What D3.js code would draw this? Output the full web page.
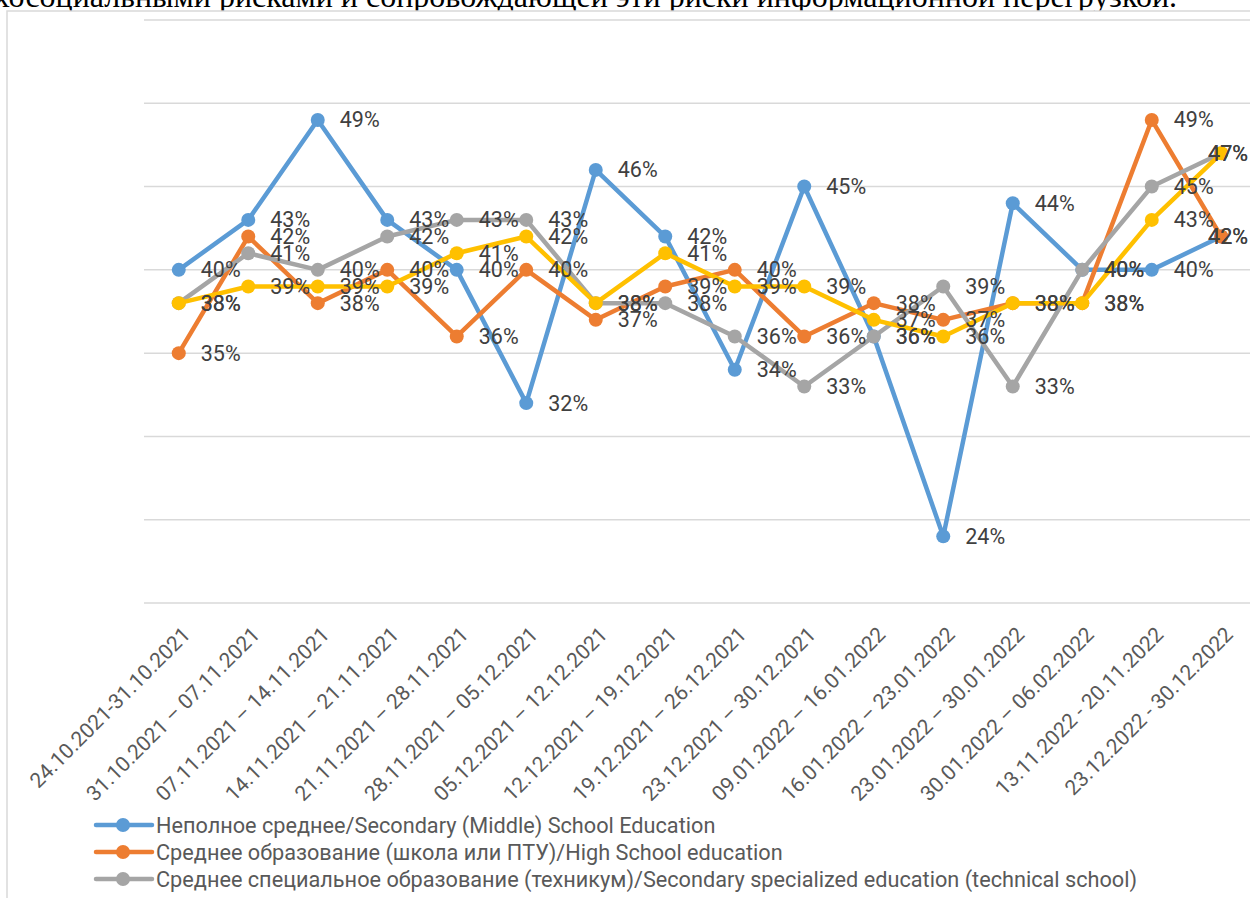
<!DOCTYPE html>
<html>
<head>
<meta charset="utf-8">
<script src="https://cdn.jsdelivr.net/npm/d3@7"></script>
<style>
  body { margin: 0; background: #fff; }
  svg { display: block; }
</style>
</head>
<body>
<svg id="chart" width="1250" height="898"></svg>
<script>
// weeks on the x axis
const categories = [
  "24.10.2021-31.10.2021",
  "31.10.2021 – 07.11.2021",
  "07.11.2021 – 14.11.2021",
  "14.11.2021 – 21.11.2021",
  "21.11.2021 – 28.11.2021",
  "28.11.2021 – 05.12.2021",
  "05.12.2021 – 12.12.2021",
  "12.12.2021 – 19.12.2021",
  "19.12.2021 – 26.12.2021",
  "23.12.2021 – 30.12.2021",
  "09.01.2022 – 16.01.2022",
  "16.01.2022 – 23.01.2022",
  "23.01.2022 – 30.01.2022",
  "30.01.2022 – 06.02.2022",
  "13.11.2022 - 20.11.2022",
  "23.12.2022 - 30.12.2022"
];

const seriesNames = [
  "Неполное среднее/Secondary (Middle) School Education",
  "Среднее образование (школа или ПТУ)/High School education",
  "Среднее специальное образование (техникум)/Secondary specialized education (technical school)",
  "Высшее образование/Higher education"
];

const middleSchool = [40, 43, 49, 43, 40, 32, 46, 42, 34, 45, 36, 24, 44, 40, 40, 42];
const highSchool   = [35, 42, 38, 40, 36, 40, 37, 39, 40, 36, 38, 37, 38, 38, 49, 42];
const technical    = [38, 41, 40, 42, 43, 43, 38, 38, 36, 33, 36, 39, 33, 40, 45, 47];
const higher       = [38, 39, 39, 39, 41, 42, 38, 41, 39, 39, 37, 36, 38, 38, 43, 47];

const gridTicks = [20, 25, 30, 35, 40, 45, 50, 55];

const colors = ["#5B9BD5", "#ED7D31", "#A5A5A5", "#FFC000"];

const series = [middleSchool, highSchool, technical, higher].map(function(vals, i) {
  return { name: seriesNames[i], color: colors[i], values: vals };
});

const W = 1250, H = 898;
const svg = d3.select("#chart");
const font = "Roboto, 'Noto Sans', sans-serif";

// document text cut off above the chart
svg.append("text")
  .attr("x", 1177)
  .attr("y", 7)
  .attr("text-anchor", "end")
  .attr("font-family", "'Liberation Serif', serif")
  .attr("font-size", 32)
  .attr("fill", "#000")
  .text("психосоциальными рисками и сопровождающей эти риски информационной перегрузкой.");

// chart frame
svg.append("rect")
  .attr("x", 7).attr("y", 11)
  .attr("width", W + 20).attr("height", H + 20)
  .attr("fill", "#fff")
  .attr("stroke", "#d9d9d9")
  .attr("stroke-width", 1.5);

const plotLeft = 144, plotRight = 1256, plotTop = 20, plotBottom = 603;

let x = d3.scalePoint()
  .domain(categories)
  .range([plotLeft, plotRight])
  .padding(0.5);

let y = d3.scaleLinear()
  .domain([20, 55])
  .range([plotBottom, plotTop]);

// horizontal gridlines
svg.append("g")
  .selectAll("line")
  .data(gridTicks)
  .enter()
  .append("line")
  .attr("x1", plotLeft)
  .attr("x2", plotRight)
  .attr("y1", function(d) { return y(d); })
  .attr("y2", function(d) { return y(d); })
  .attr("stroke", "#d9d9d9")
  .attr("stroke-width", 1.5);

// rotated category labels
svg.append("g")
  .selectAll("text")
  .data(categories)
  .enter()
  .append("text")
  .attr("transform", function(d) { return "translate(" + (x(d) + 8) + ",631) rotate(-45)"; })
  .attr("text-anchor", "end")
  .attr("dominant-baseline", "central")
  .attr("font-family", font)
  .attr("font-size", 21)
  .attr("fill", "#595959")
  .text(function(d) { return d; });

const line = d3.line()
  .x(function(d, i) { return x(categories[i]); })
  .y(function(d) { return y(d); });

series.forEach(function(s) {
  const g = svg.append("g");
  g.append("path")
    .datum(s.values)
    .attr("d", line)
    .attr("fill", "none")
    .attr("stroke", s.color)
    .attr("stroke-width", 4.5)
    .attr("stroke-linejoin", "round")
    .attr("stroke-linecap", "round");
  g.selectAll("circle")
    .data(s.values)
    .enter()
    .append("circle")
    .attr("cx", function(d, i) { return x(categories[i]); })
    .attr("cy", function(d) { return y(d); })
    .attr("r", 7)
    .attr("fill", s.color);
});

// data labels, to the right of each point (pulled back inside at the right edge)
series.forEach(function(s) {
  svg.append("g")
    .selectAll("text")
    .data(s.values)
    .enter()
    .append("text")
    .attr("x", function(d, i) { return x(categories[i]) + 22; })
    .attr("y", function(d) { return y(d); })
    .attr("dominant-baseline", "central")
    .attr("font-family", font)
    .attr("font-size", 21.5)
    .attr("fill", "#404040")
    .text(function(d) { return d + "%"; })
    .each(function() {
      const t = d3.select(this);
      const len = this.getComputedTextLength();
      if (+t.attr("x") + len > W - 2) {
        t.attr("x", W - 2).attr("text-anchor", "end");
      }
    });
});

// legend rows
const legend = svg.append("g")
  .selectAll("g")
  .data(series.filter(function(s, i) { return 825 + i * 27 < H; }))
  .enter()
  .append("g")
  .attr("transform", function(d, i) { return "translate(0," + (825 + i * 27) + ")"; });

legend.append("line")
  .attr("x1", 96).attr("x2", 152)
  .attr("stroke", function(d) { return d.color; })
  .attr("stroke-width", 4.5)
  .attr("stroke-linecap", "round");

legend.append("circle")
  .attr("cx", 123)
  .attr("r", 7)
  .attr("fill", function(d) { return d.color; });

legend.append("text")
  .attr("x", 156)
  .attr("dominant-baseline", "central")
  .attr("font-family", font)
  .attr("font-size", 21.7)
  .attr("fill", "#595959")
  .text(function(d) { return d.name; });
</script>
</body>
</html>
